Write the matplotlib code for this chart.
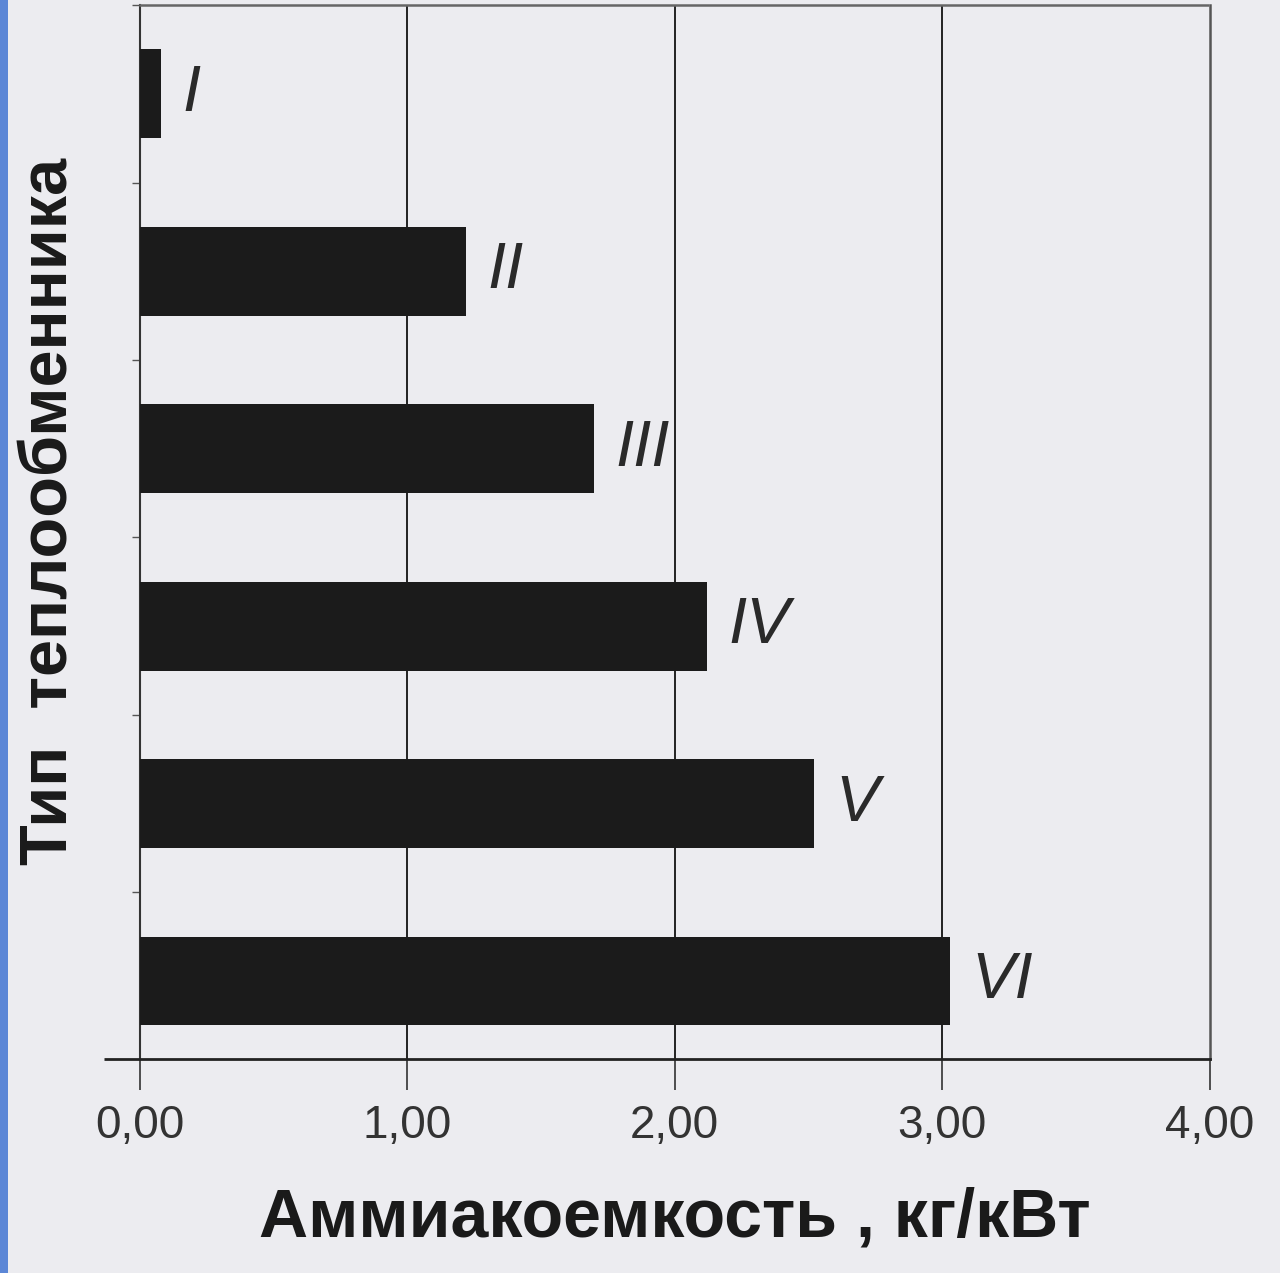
import matplotlib.pyplot as plt
from matplotlib.patches import Rectangle

# heat exchanger types and ammonia capacity, kg/kW
types = ['I', 'II', 'III', 'IV', 'V', 'VI']
capacity = [0.08, 1.22, 1.70, 2.12, 2.52, 3.03]
xticks = [0, 1, 2, 3, 4]
xtick_labels = ['0,00', '1,00', '2,00', '3,00', '4,00']

plt.rcParams['font.family'] = ['Liberation Sans', 'DejaVu Sans']

bg = '#ececf0'
fig = plt.figure(figsize=(12.8, 12.73), dpi=100, facecolor=bg)
# bluish scan edge on the left
fig.patches.append(Rectangle((0, 0), 0.006, 1, transform=fig.transFigure,
                             facecolor='#5b86d6', edgecolor='none', zorder=0))

ax = fig.add_axes([0.109, 0.168, 0.836, 0.828])
ax.set_facecolor(bg)

pos = list(range(len(types), 0, -1))
ax.barh(pos, capacity, height=0.5, color='#1b1b1b', zorder=3)
for p, v, t in zip(pos, capacity, types):
    ax.text(v + 0.08, p, t, fontsize=47, style='italic', color='#2a2a2a',
            va='center', ha='left', zorder=4)

ax.set_xlim(0, 4)
ax.set_ylim(0.56, 6.48)

ax.set_xticks(xticks)
ax.set_xticklabels(xtick_labels, fontsize=33, color='#333333')
ax.tick_params(axis='x', direction='out', length=22, width=1.2,
               color='#333333', pad=10)

# category boundaries as small ticks, long tick at the bottom
ax.set_yticks([0.56])
ax.set_yticklabels([''])
ax.set_yticks([p + 0.5 for p in pos[:-1]] + [1.5], minor=True)
ax.tick_params(axis='y', which='major', direction='out', length=26,
               width=2, color='#222222')
ax.tick_params(axis='y', which='minor', direction='out', length=6,
               width=1, color='#555555')

for x in xticks[1:-1]:
    ax.axvline(x, color='#222222', linewidth=1.4, zorder=1)

ax.spines['bottom'].set_color('#222222')
ax.spines['bottom'].set_linewidth(2)
ax.spines['left'].set_color('#333333')
ax.spines['left'].set_linewidth(1.5)
ax.spines['right'].set_color('#555555')
ax.spines['right'].set_linewidth(1.8)
ax.spines['right'].set_linestyle((0, (6, 1)))
ax.spines['top'].set_color('#666666')
ax.spines['top'].set_linewidth(1.8)
ax.spines['top'].set_linestyle((0, (3, 1)))

ax.set_xlabel('Аммиакоемкость , кг/кВт', fontsize=49, fontweight='bold',
              color='#1a1a1a', labelpad=28)
ax.set_ylabel('Тип  теплообменника', fontsize=48, fontweight='bold',
              color='#1a1a1a')
ax.yaxis.set_label_coords(-0.054, 0.52)

fig.savefig('out.png', dpi=100, facecolor=bg)
